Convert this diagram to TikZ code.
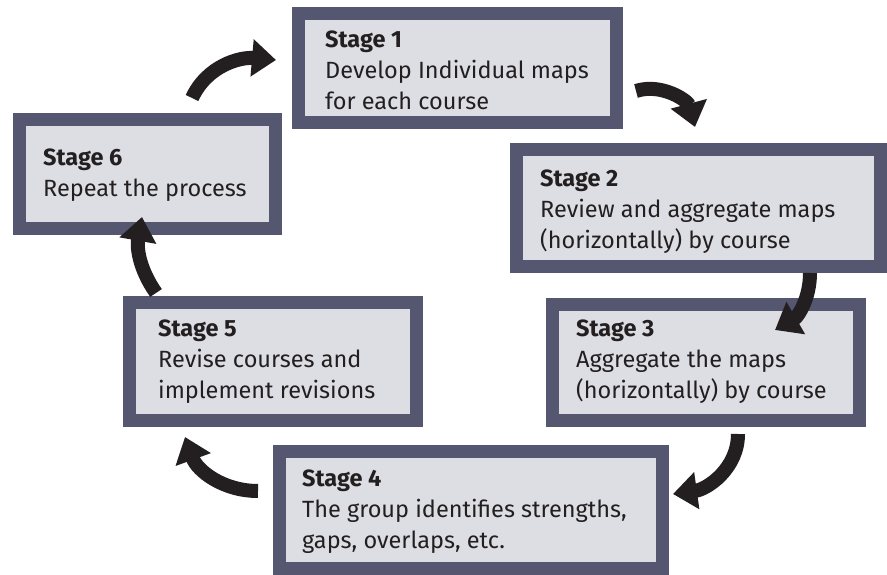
\documentclass[tikz,border=0pt]{standalone}
\usepackage{fontspec}
\setmainfont{Fira Sans}
\usetikzlibrary{arrows.meta}
\definecolor{bordc}{HTML}{55566F}
\definecolor{fillc}{HTML}{DDDEE3}
\definecolor{inkc}{HTML}{231F20}
\begin{document}
\begin{tikzpicture}[x=1pt,y=1pt,
  stagebox/.style={draw=bordc, fill=fillc, line width=13pt, rectangle, inner sep=0pt},
  stagetext/.style={anchor=base west, align=left, inner sep=0pt, text=inkc,
    font=\fontsize{23.5}{31}\selectfont},
  cyc/.style={draw=inkc, line width=14pt, -{Triangle[width=36pt,length=24pt]}}]
\useasboundingbox (0,0) rectangle (887,575);
\fill[white] (0,0) rectangle (887,575);

\node[stagebox, minimum width=318pt, minimum height=109pt] (s1) at (457.5,507) {};
\node[stagebox, minimum width=364pt, minimum height=117pt] (s2) at (698.5,367) {};
\node[stagebox, minimum width=307pt, minimum height=116pt] (s3) at (706,212.5) {};
\node[stagebox, minimum width=383pt, minimum height=117pt] (s4) at (471,65) {};
\node[stagebox, minimum width=287pt, minimum height=118pt] (s5) at (273,213.5) {};
\node[stagebox, minimum width=256pt, minimum height=109pt] (s6) at (147.5,401) {};

% anchor "base west" refers to the baseline of the last line
\node[stagetext] (t1) at (325,465) {\textbf{Stage 1}\\Develop Individual maps\\for each course};
\node[stagetext] (t2) at (540,326) {\textbf{Stage 2}\\Review and aggregate maps\\(horizontally) by course};
\node[stagetext] (t3) at (576,176) {\textbf{Stage 3}\\Aggregate the maps\\(horizontally) by course};
\node[stagetext] (t4) at (302,26) {\textbf{Stage 4}\\The group identifies strengths,\\gaps, overlaps, etc.};
\node[stagetext] (t5) at (158,176) {\textbf{Stage 5}\\Revise courses and\\implement revisions};
\node[stagetext] (t6) at (43,378) {\textbf{Stage 6}\\Repeat the process};

\coordinate (a1s) at (192,477);
\coordinate (a1e) at (276,515);
\coordinate (a2s) at (636,484);
\coordinate (a2e) at (695,448);
\coordinate (a3s) at (810,302);
\coordinate (a3e) at (775,245);
\coordinate (a4s) at (738,141);
\coordinate (a4e) at (673,81);
\coordinate (a5s) at (258,84);
\coordinate (a5e) at (185,138);
\coordinate (a6s) at (156,282);
\coordinate (a6e) at (142,358);

\draw[cyc] (a1s) to[out=65,in=175] (a1e);
\draw[cyc] (a2s) to[out=18,in=105] (a2e);
\draw[cyc] (a3s) to[out=-90,in=30] (a3e);
\draw[cyc] (a4s) to[out=-90,in=8] (a4e);
\draw[cyc] (a5s) to[out=180,in=-70] (a5e);
\draw[cyc] (a6s) to[out=125,in=-100] (a6e);
\end{tikzpicture}
\end{document}
